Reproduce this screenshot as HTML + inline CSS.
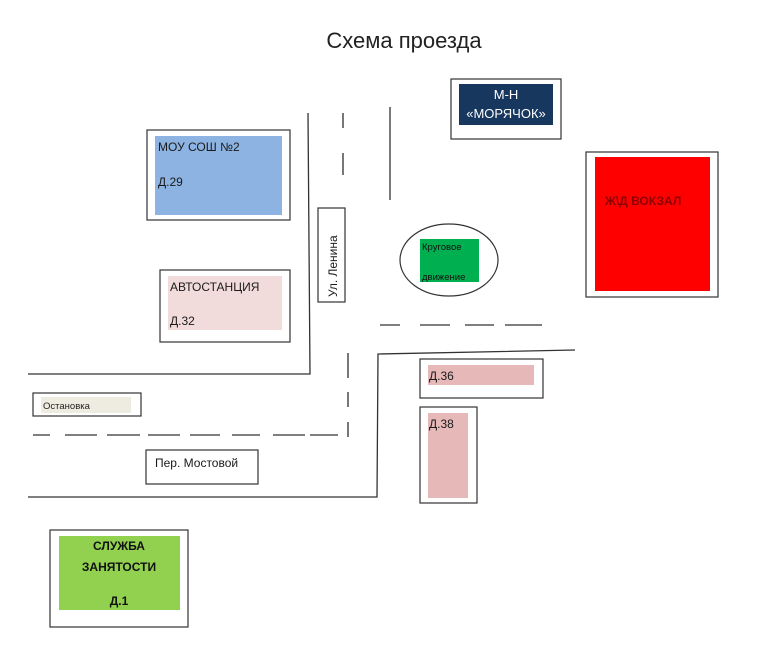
<!DOCTYPE html>
<html><head><meta charset="utf-8"><style>
html,body{margin:0;padding:0;background:#fff;}
svg{display:block;}
text{font-family:"Liberation Sans","DejaVu Sans",sans-serif;}
</style></head><body>
<svg width="768" height="654" viewBox="0 0 768 654" xmlns="http://www.w3.org/2000/svg">
<rect width="768" height="654" fill="#fff"/>
<text x="404" y="48" font-size="22" text-anchor="middle" fill="#222">Схема проезда</text>

<g stroke="#333" stroke-width="1.3" fill="none">
<polyline points="308,113 310,374 28,374"/>
<line x1="390" y1="107" x2="390" y2="200"/>
<polyline points="575,350 378,354 377,497 28,497"/>
</g>
<g stroke="#555" stroke-width="1.6">
<line x1="343" y1="113" x2="343" y2="128"/>
<line x1="343" y1="153" x2="343" y2="175"/>
<line x1="348" y1="353" x2="348" y2="378"/>
<line x1="348" y1="392" x2="348" y2="407"/>
<line x1="348" y1="422" x2="348" y2="437"/>
<line x1="380" y1="325" x2="400" y2="325"/>
<line x1="420" y1="325" x2="450" y2="325"/>
<line x1="465" y1="325" x2="494" y2="325"/>
<line x1="505" y1="325" x2="542" y2="325"/>
<line x1="33" y1="435" x2="50" y2="435"/>
<line x1="65" y1="435" x2="97" y2="435"/>
<line x1="107" y1="435" x2="140" y2="435"/>
<line x1="148" y1="435" x2="180" y2="435"/>
<line x1="190" y1="435" x2="220" y2="435"/>
<line x1="232" y1="435" x2="260" y2="435"/>
<line x1="273" y1="435" x2="305" y2="435"/>
<line x1="310" y1="435" x2="338" y2="435"/>
</g>

<g stroke="#333" stroke-width="1.2" fill="#fff">
<rect x="147" y="130" width="143" height="90"/>
<rect x="160" y="270" width="130" height="72"/>
<rect x="318" y="208" width="27" height="94"/>
<rect x="451" y="79" width="110" height="60"/>
<rect x="586" y="152" width="132" height="145"/>
<rect x="420" y="359" width="123" height="39"/>
<rect x="420" y="407" width="57" height="96"/>
<rect x="33" y="393" width="108" height="23"/>
<rect x="146" y="450" width="112" height="34"/>
<rect x="50" y="530" width="138" height="97"/>
<ellipse cx="449" cy="260" rx="49" ry="36"/>
</g>

<rect x="155" y="136" width="127" height="79" fill="#8db3e2"/>
<rect x="168" y="276" width="114" height="54" fill="#f2dcdb"/>
<rect x="459" y="84" width="94" height="41" fill="#17375e"/>
<rect x="595" y="157" width="115" height="134" fill="#ff0000"/>
<rect x="420" y="239" width="59" height="43" fill="#00b050"/>
<rect x="428" y="365" width="106" height="20" fill="#e6b9b8"/>
<rect x="428" y="413" width="40" height="85" fill="#e6b9b8"/>
<rect x="41" y="397" width="90" height="16" fill="#eeece1"/>
<rect x="59" y="536" width="121" height="74" fill="#92d050"/>

<g font-size="12" fill="#1a1a1a">
<text x="158" y="151">МОУ СОШ №2</text>
<text x="158" y="186">Д.29</text>
<text x="170" y="291">АВТОСТАНЦИЯ</text>
<text x="170" y="325">Д.32</text>
<text x="429" y="380">Д.36</text>
<text x="429" y="428">Д.38</text>
<text x="155" y="467">Пер. Мостовой</text>
<text x="337" y="297" transform="rotate(-90 337 297)">Ул. Ленина</text>
</g>
<text x="506" y="99" font-size="13" fill="#fff" text-anchor="middle">М-Н</text>
<text x="506" y="118" font-size="13" fill="#fff" text-anchor="middle">«МОРЯЧОК»</text>
<text x="605" y="205" font-size="12" font-weight="bold" fill="#8b0000">Ж\Д ВОКЗАЛ</text>
<text x="422" y="250" font-size="9.5" fill="#111">Круговое</text>
<text x="422" y="280" font-size="9.5" fill="#111">движение</text>
<text x="43" y="409" font-size="9.5" fill="#222">Остановка</text>
<g font-size="12" font-weight="bold" fill="#111" text-anchor="middle">
<text x="119" y="550">СЛУЖБА</text>
<text x="119" y="571">ЗАНЯТОСТИ</text>
<text x="119" y="605">Д.1</text>
</g>
</svg>
</body></html>
